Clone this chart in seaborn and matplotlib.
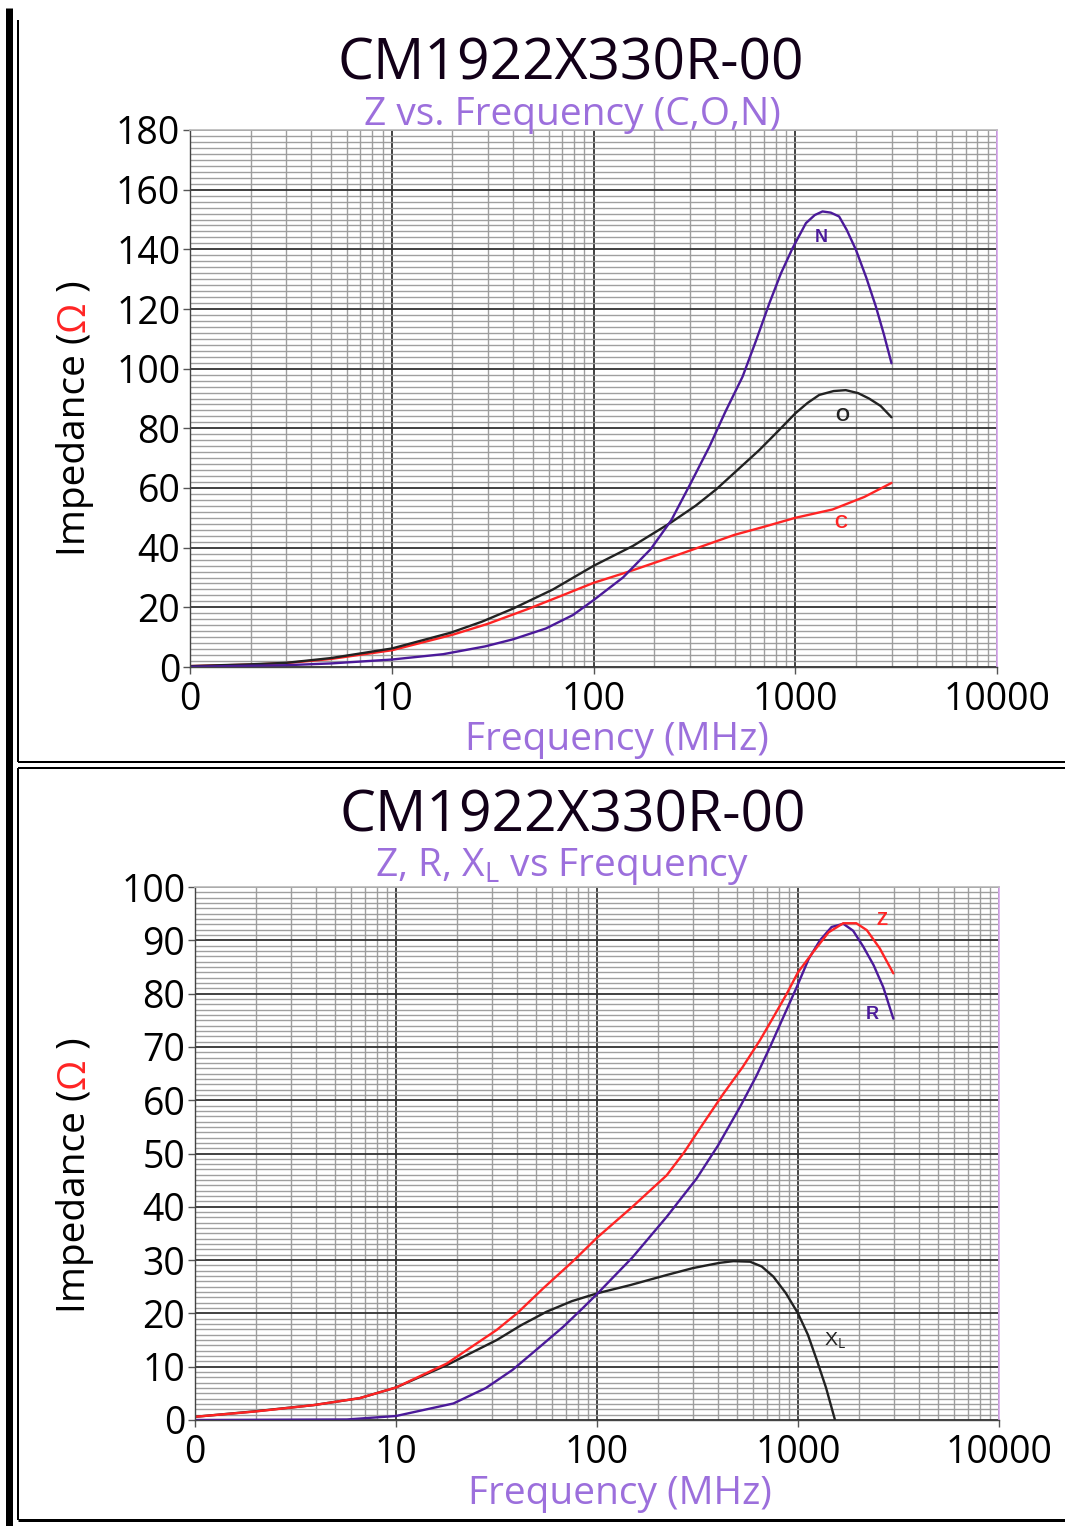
#!/usr/bin/env python3
"""
CM1922X330R-00 impedance charts (Z vs. frequency, C/O/N and Z/R/XL)
"""

import matplotlib
matplotlib.use("Agg")
import pandas as pd
import matplotlib.pyplot as plt
import seaborn as sns
from matplotlib.lines import Line2D
from matplotlib.ticker import FixedLocator, LogLocator, MultipleLocator, NullFormatter

# ---- data (frequency in MHz, impedance in ohm) ----
c_freq = [1, 2, 3, 5, 10, 20, 30, 48, 70, 100, 150, 267, 500, 700, 1000, 1530, 2200, 3000]
c_imp = [0.3, 0.8, 1.3, 2.7, 5.6, 10.8, 14.5, 19.6, 24.0, 28.2, 32.0, 37.8, 44.3, 47.0,
         50.0, 52.8, 57.0, 61.7]

o_freq = [1, 2, 3, 5, 10, 19.6, 28, 40, 63, 100, 157, 243, 320, 405, 663, 820, 1000, 1150,
          1315, 1550, 1780, 2050, 2320, 2650, 3000]
o_imp = [0.3, 0.9, 1.4, 3.0, 6.2, 11.5, 15.2, 19.6, 26.0, 33.9, 40.6, 48.5, 54.0, 59.5,
         72.7, 79.0, 85.0, 88.5, 91.2, 92.5, 92.8, 91.8, 90.0, 87.5, 83.7]

n_freq = [1, 3, 5, 10, 18, 29, 40, 58, 79, 100, 140, 192, 243, 300, 375, 450, 548, 640, 744,
          850, 970, 1130, 1250, 1365, 1500, 1650, 1800, 2000, 2250, 2510, 2750, 3000]
n_imp = [0.1, 0.6, 1.2, 2.5, 4.3, 6.9, 9.3, 12.9, 17.4, 22.4, 30.0, 39.5, 49.2, 61.0, 73.8,
         85.5, 97.3, 109.5, 121.9, 132.0, 140.4, 148.8, 151.5, 152.7, 152.3, 151.0, 146.5,
         139.8, 130.5, 120.8, 111.5, 101.8]

z_freq = [1, 2, 3.9, 6.6, 10, 17.9, 31.7, 40, 54, 76, 100, 150, 222, 270, 325, 425, 530, 648,
          760, 880, 1000, 1190, 1420, 1680, 1950, 2200, 2550, 2980]
z_imp = [0.6, 1.6, 2.8, 4.1, 6.1, 10.6, 16.9, 20.0, 24.7, 29.8, 34.2, 40.0, 45.9, 50.1,
         54.7, 61.2, 66.2, 71.3, 75.8, 80.0, 84.0, 87.8, 91.5, 93.2, 93.2, 91.9, 88.5, 83.8]

r_freq = [1, 5.7, 10, 19.3, 28, 38, 50, 68, 85, 101, 150, 222, 313, 400, 514, 620, 726, 850,
          985, 1130, 1286, 1470, 1680, 1880, 2113, 2380, 2656, 2980]
r_imp = [0.0, 0.1, 0.75, 3.1, 6.0, 9.4, 13.2, 17.5, 21.0, 23.8, 30.5, 38.1, 45.3, 51.5,
         58.7, 64.5, 70.0, 75.8, 81.2, 86.5, 90.0, 92.5, 93.1, 91.8, 88.8, 85.3, 81.2, 75.3]

xl_freq = [1, 1.95, 3.9, 6.6, 10, 17.9, 31.7, 42, 56, 75, 101, 146, 222, 300, 350, 410, 477,
           577, 660, 754, 870, 1000, 1120, 1240, 1380, 1528]
xl_imp = [0.6, 1.6, 2.8, 4.1, 6.1, 10.3, 15.0, 17.8, 20.3, 22.3, 23.8, 25.3, 27.2, 28.5,
          29.0, 29.5, 29.8, 29.7, 28.8, 26.9, 23.8, 20.0, 16.0, 11.25, 6.0, 0.0]

x_ticks = [1, 10, 100, 1000, 10000]
x_tick_labels = ["0", "10", "100", "1000", "10000"]

PURPLE = "#4b1a9a"
RED = "#ff2424"
BLACK = "#222222"
VIOLET = "#9c6fdc"
TITLE = "#120018"

sns.set_theme(style="white")
plt.rcParams['font.family'] = ['Open Sans', 'DejaVu Sans']
plt.rcParams['mathtext.fontset'] = 'custom'
plt.rcParams['mathtext.rm'] = 'Open Sans'
plt.rcParams['mathtext.it'] = 'Open Sans'

W, H = 1065, 1526
fig = plt.figure(figsize=(W / 100, H / 100), dpi=100)


def fx(px):
    return px / W


def fy(py):
    return 1 - py / H


def make_axes(left, right, top, bottom):
    return fig.add_axes([fx(left), fy(bottom), fx(right) - fx(left), fy(top) - fy(bottom)])


def long_frame(series):
    rows = []
    for name, freqs, imps in series:
        for f, v in zip(freqs, imps):
            rows.append({'freq': f, 'imp': v, 'curve': name})
    return pd.DataFrame(rows)


def style_axes(ax, ymax, ymajor, yminor):
    ax.set_xscale('log')
    ax.set_xlim(1, 10000)
    ax.set_ylim(0, ymax)
    ax.xaxis.set_major_locator(FixedLocator(x_ticks))
    ax.xaxis.set_minor_locator(LogLocator(base=10, subs=range(2, 10)))
    ax.xaxis.set_minor_formatter(NullFormatter())
    ax.set_xticklabels(x_tick_labels)
    ax.yaxis.set_major_locator(MultipleLocator(ymajor))
    ax.yaxis.set_minor_locator(MultipleLocator(yminor))
    ax.grid(which='major', color='#333333', lw=1.3)
    ax.grid(which='minor', color='#9a9a9a', lw=1.0, alpha=0.95)
    ax.set_axisbelow(True)
    ax.tick_params(which='major', length=5, width=1, color='#555555',
                   labelsize=27, labelcolor='black', left=True, bottom=True)
    ax.tick_params(axis='x', which='major', pad=5)
    ax.tick_params(axis='y', which='major', pad=2)
    ax.tick_params(which='minor', length=0)
    ax.set_xlabel("")
    ax.set_ylabel("")
    for side in ['left', 'bottom']:
        ax.spines[side].set_color('#444444')
        ax.spines[side].set_linewidth(1.0)
    ax.spines['top'].set_color('#bcbcbc')
    ax.spines['right'].set_color('#d9a8ef')


def impedance_label(cx, cy, size=28):
    renderer = fig.canvas.get_renderer()
    parts = [("Impedance (", "black"), ("\u03a9", RED), (" )", "black")]
    texts = [fig.text(0, 0, s, rotation=90, fontsize=size, color=c,
                      ha='center', va='bottom') for s, c in parts]
    lengths = [t.get_window_extent(renderer).height for t in texts]
    y = (H - cy) - sum(lengths) / 2
    for t, ln in zip(texts, lengths):
        t.set_position((fx(cx), y / H))
        y += ln


def curve_label(ax, x, y, s, color, size=13, weight='bold'):
    ax.text(x, y, s, color=color, fontsize=size, fontweight=weight,
            family='Liberation Sans', ha='center', va='center')


# ---- top panel: C, O, N ----
ax1 = make_axes(190, 997, 130, 667)
top_df = long_frame([('C', c_freq, c_imp), ('O', o_freq, o_imp), ('N', n_freq, n_imp)])
sns.lineplot(data=top_df, x='freq', y='imp', hue='curve', estimator=None,
             palette={'C': RED, 'O': BLACK, 'N': PURPLE}, linewidth=1.7,
             legend=False, ax=ax1)
style_axes(ax1, 180, 20, 2)
curve_label(ax1, 1345, 144, "N", PURPLE)
curve_label(ax1, 1710, 84, "O", BLACK)
curve_label(ax1, 1690, 48, "C", RED)

fig.text(fx(571), fy(79), "CM1922X330R-00", fontsize=41, color=TITLE,
         ha='center', va='baseline')
fig.text(fx(572), fy(125), "Z vs. Frequency (C,O,N)", fontsize=28, color=VIOLET,
         ha='center', va='baseline')
fig.text(fx(617), fy(750), "Frequency (MHz)", fontsize=28, color=VIOLET,
         ha='center', va='baseline')
impedance_label(75, 418)

# ---- bottom panel: Z, R, XL ----
ax2 = make_axes(195, 999, 887, 1420)
bot_df = long_frame([('XL', xl_freq, xl_imp), ('R', r_freq, r_imp), ('Z', z_freq, z_imp)])
sns.lineplot(data=bot_df, x='freq', y='imp', hue='curve', estimator=None,
             palette={'Z': RED, 'XL': BLACK, 'R': PURPLE}, linewidth=1.7,
             legend=False, ax=ax2)
style_axes(ax2, 100, 10, 1)
curve_label(ax2, 2618, 93.8, "Z", RED)
curve_label(ax2, 2334, 76.1, "R", PURPLE)
curve_label(ax2, 1528, 15, r"X$_{\mathrm{L}}$", BLACK, size=14, weight='normal')

fig.text(fx(573), fy(831), "CM1922X330R-00", fontsize=41, color=TITLE,
         ha='center', va='baseline')
fig.text(fx(562), fy(876), r"Z, R, X$_{\mathrm{L}}$ vs Frequency", fontsize=28,
         color=VIOLET, ha='center', va='baseline')
fig.text(fx(620), fy(1504), "Frequency (MHz)", fontsize=28, color=VIOLET,
         ha='center', va='baseline')
impedance_label(75, 1175)

# ---- page frame lines ----
frame = [
    ([8.5, 8.5], [8, 1526], 7),
    ([18, 18], [20, 762], 2),
    ([18, 18], [768, 1520], 2),
    ([18, 1065], [762, 762], 2),
    ([18, 1065], [768, 768], 2),
    ([18, 1065], [1520, 1520], 3),
]
for xs, ys, w in frame:
    fig.add_artist(Line2D([fx(v) for v in xs], [fy(v) for v in ys],
                          color='black', lw=w * 0.72, solid_capstyle='butt'))

fig.savefig("out.png", dpi=100)
